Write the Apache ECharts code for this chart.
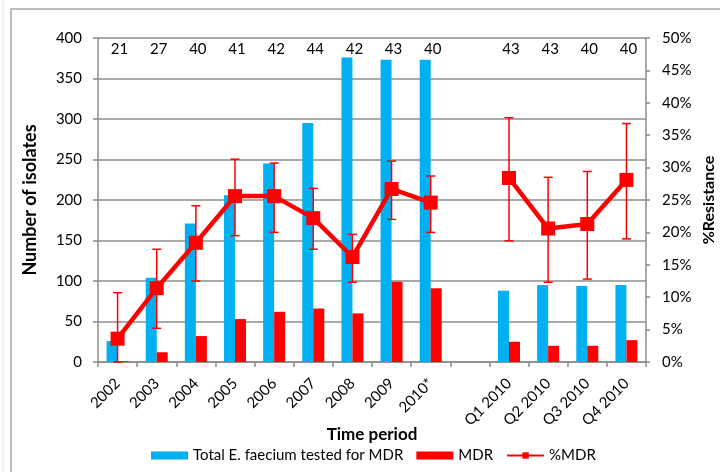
<!DOCTYPE html>
<html>
<head>
<meta charset="utf-8">
<script src="https://cdn.jsdelivr.net/npm/echarts@6/dist/echarts.min.js"></script>
<style>
  html, body { margin: 0; padding: 0; background: #fff; }
  #chart { width: 720px; height: 472px; }
</style>
</head>
<body>
<div id="chart"></div>
<script>
// Time periods: yearly totals, a spacer, then the 2010 quarters
var periods = ['2002', '2003', '2004', '2005', '2006', '2007', '2008', '2009', '2010*', '',
               'Q1 2010', 'Q2 2010', 'Q3 2010', 'Q4 2010'];

// Isolates tested for MDR and isolates found MDR
var totalTested = [26, 104, 171, 206, 245, 295, 376, 373, 373, null, 88, 95, 94, 95];
var mdrCount    = [1, 12, 32, 53, 62, 66, 60, 99, 91, null, 25, 20, 20, 27];

// Percentage MDR with its confidence limits
var pctMdr  = [3.6, 11.4, 18.4, 25.6, 25.6, 22.2, 16.2, 26.7, 24.6, null, 28.4, 20.6, 21.3, 28.1];
var pctLow  = [0, 5.2, 12.5, 19.5, 20.0, 17.4, 12.3, 22.0, 20.0, null, 18.7, 12.3, 12.8, 19.0];
var pctHigh = [10.7, 17.4, 24.1, 31.3, 30.7, 26.8, 19.7, 31.0, 28.7, null, 37.7, 28.5, 29.4, 36.8];

// Number of laboratories reporting in each period
var labCounts = [21, 27, 40, 41, 42, 44, 42, 43, 40, null, 43, 43, 40, 40];

var FONT = 'Lato';
var BLUE = '#00B0F0';
var RED = '#FF0000';
var GRID = '#8c8c8c';

var errData = [];
for (var i = 0; i < periods.length; i++) {
  if (pctMdr[i] !== null) errData.push([i, pctLow[i], pctHigh[i]]);
}
var labData = [];
for (var j = 0; j < periods.length; j++) {
  if (labCounts[j] !== null) labData.push([j, labCounts[j]]);
}

var chart = echarts.init(document.getElementById('chart'), null, { renderer: 'canvas' });

chart.setOption({
  animation: false,
  backgroundColor: '#fff',
  textStyle: { fontFamily: FONT },
  graphic: [
    { type: 'rect', shape: { x: 11, y: 9, width: 900, height: 700 },
      style: { fill: 'none', stroke: '#a9a9a9', lineWidth: 1.5 }, silent: true },
    { type: 'line', shape: { x1: 3, y1: 0, x2: 3, y2: 472 },
      style: { stroke: '#e4e4e4', lineWidth: 1 }, silent: true }
  ],
  grid: { left: 98, right: 74, top: 38, bottom: 110, containLabel: false, outerBoundsMode: 'none' },
  legend: {
    bottom: 4,
    left: 146,
    itemGap: 13,
    itemWidth: 37,
    itemHeight: 8,
    textStyle: { fontFamily: FONT, fontSize: 15, color: '#000' },
    data: [
      { name: 'Total E. faecium tested for MDR', icon: 'rect' },
      { name: 'MDR', icon: 'rect' },
      { name: '%MDR', lineStyle: { width: 2 } }
    ]
  },
  xAxis: {
    type: 'category',
    data: periods,
    name: 'Time period',
    nameLocation: 'middle',
    nameGap: 64,
    nameMoveOverlap: false,
    nameTextStyle: { fontFamily: FONT, fontSize: 17, fontWeight: 'bold', color: '#000' },
    axisLine: { lineStyle: { color: GRID, width: 1.5 } },
    axisTick: { show: true, length: 5, lineStyle: { color: GRID, width: 1.5 } },
    axisLabel: { rotate: 45, margin: 19, fontFamily: FONT, fontSize: 15, color: '#000', interval: 0 }
  },
  yAxis: [
    {
      type: 'value', min: 0, max: 400, interval: 50,
      name: 'Number of isolates',
      nameLocation: 'middle',
      nameRotate: 90,
      nameGap: 59,
      nameMoveOverlap: false,
      nameTextStyle: { fontFamily: FONT, fontSize: 18, fontWeight: 'bold', color: '#000' },
      axisLine: { show: true, lineStyle: { color: GRID, width: 1.5 } },
      axisTick: { show: true, length: 5, lineStyle: { color: GRID, width: 1.5 } },
      axisLabel: { margin: 16, fontFamily: FONT, fontSize: 15, color: '#000' },
      splitLine: { show: true, lineStyle: { color: GRID, width: 1.5 } }
    },
    {
      type: 'value', min: 0, max: 50, interval: 5,
      name: '%Resistance',
      nameLocation: 'middle',
      nameRotate: 90,
      nameGap: 55,
      nameMoveOverlap: false,
      nameTextStyle: { fontFamily: FONT, fontSize: 16, fontWeight: 'bold', color: '#000' },
      axisLine: { show: true, lineStyle: { color: GRID, width: 1.5 } },
      axisTick: { show: true, length: 4, lineStyle: { color: GRID, width: 1.5 } },
      axisLabel: { margin: 16, fontFamily: FONT, fontSize: 15, color: '#000', formatter: '{value}%' },
      splitLine: { show: false }
    }
  ],
  series: [
    {
      name: 'Total E. faecium tested for MDR',
      type: 'bar',
      data: totalTested,
      barWidth: 11,
      barGap: '0%',
      itemStyle: { color: BLUE },
      z: 2
    },
    {
      name: 'MDR',
      type: 'bar',
      data: mdrCount,
      barWidth: 11,
      itemStyle: { color: RED },
      z: 2
    },
    {
      name: 'errorBars',
      type: 'custom',
      yAxisIndex: 1,
      data: errData,
      encode: { x: 0, y: [1, 2] },
      z: 4,
      renderItem: function (params, api) {
        var x = api.value(0);
        var lo = api.coord([x, api.value(1)]);
        var hi = api.coord([x, api.value(2)]);
        var cap = 4.5;
        var st = { stroke: RED, lineWidth: 1.5 };
        return {
          type: 'group',
          children: [
            { type: 'line', shape: { x1: lo[0], y1: lo[1], x2: hi[0], y2: hi[1] }, style: st },
            { type: 'line', shape: { x1: hi[0] - cap, y1: hi[1], x2: hi[0] + cap, y2: hi[1] }, style: st },
            { type: 'line', shape: { x1: lo[0] - cap, y1: lo[1], x2: lo[0] + cap, y2: lo[1] }, style: st }
          ]
        };
      }
    },
    {
      name: '%MDR',
      type: 'line',
      yAxisIndex: 1,
      data: pctMdr,
      connectNulls: false,
      symbol: 'rect',
      symbolSize: 14,
      lineStyle: { color: RED, width: 4.5 },
      itemStyle: { color: RED },
      z: 5
    },
    {
      name: 'labCounts',
      type: 'custom',
      data: labData,
      encode: { x: 0 },
      z: 6,
      renderItem: function (params, api) {
        var x = api.value(0);
        var p = api.coord([x, 400]);
        return {
          type: 'text',
          style: {
            x: p[0] + 2, y: p[1] + 11,
            text: String(api.value(1)),
            align: 'center', verticalAlign: 'middle',
            fontFamily: FONT, fontSize: 15, fill: '#000'
          }
        };
      }
    }
  ]
});
</script>
</body>
</html>
